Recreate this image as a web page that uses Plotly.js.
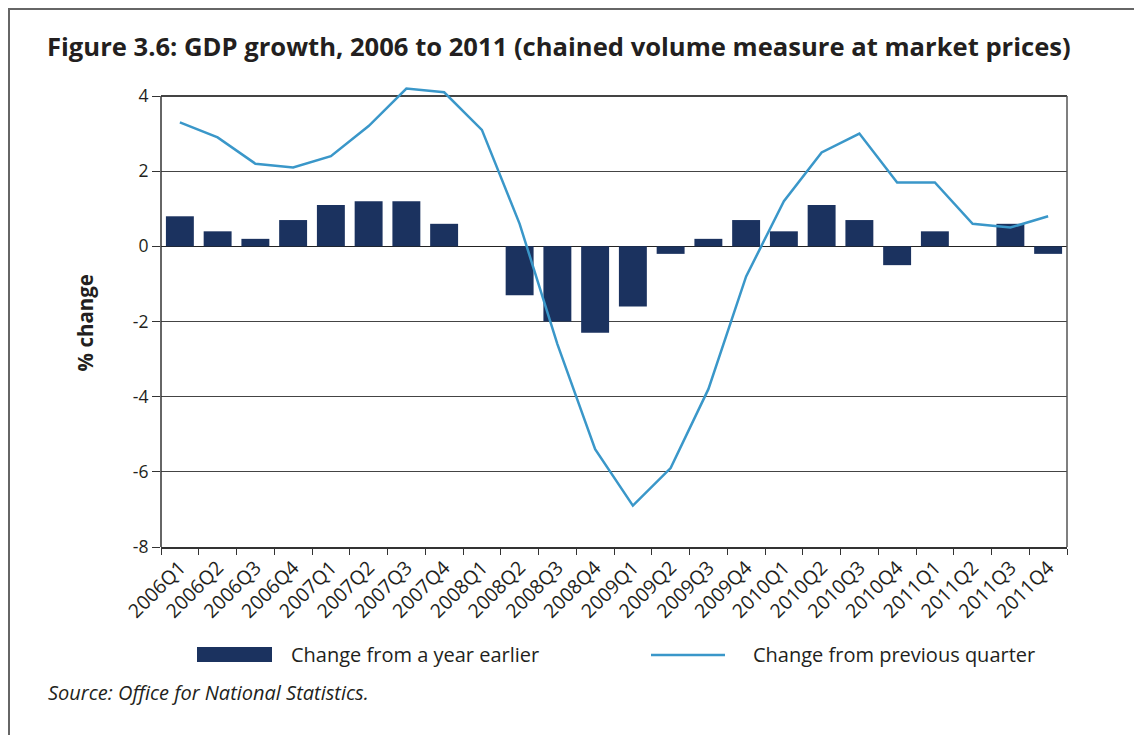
<!DOCTYPE html>
<html>
<head>
<meta charset="utf-8">
<script src="https://cdn.plot.ly/plotly-3.0.1.min.js"></script>
<style>
  html, body { margin: 0; padding: 0; background: #fff; }
  #chart { width: 1134px; height: 735px; }
  #frame { position: absolute; left: 8px; top: 8px; width: 1140px; height: 740px;
           border-left: 2px solid #666; border-top: 2px solid #666; pointer-events: none; }
</style>
</head>
<body>
<div id="chart"></div>
<div id="frame"></div>
<script>
const quarters = ["2006Q1","2006Q2","2006Q3","2006Q4","2007Q1","2007Q2","2007Q3","2007Q4",
  "2008Q1","2008Q2","2008Q3","2008Q4","2009Q1","2009Q2","2009Q3","2009Q4",
  "2010Q1","2010Q2","2010Q3","2010Q4","2011Q1","2011Q2","2011Q3","2011Q4"];
const yearEarlier = [0.8,0.4,0.2,0.7,1.1,1.2,1.2,0.6,
  0.0,-1.3,-2.0,-2.3,-1.6,-0.2,0.2,0.7,
  0.4,1.1,0.7,-0.5,0.4,0.0,0.6,-0.2];
const prevQuarter = [3.3,2.9,2.2,2.1,2.4,3.2,4.2,4.1,
  3.1,0.6,-2.6,-5.4,-6.9,-5.9,-3.8,-0.8,
  1.2,2.5,3.0,1.7,1.7,0.6,0.5,0.8];
const seriesNames = ["Change from a year earlier", "Change from previous quarter"];
const yTicks = [-8,-6,-4,-2,0,2,4];
const yTickText = ["-8","-6","-4","-2","0","2","4"];
const yTitle = "% change";
const yMin = -8, yMax = 4, yHead = 4.4;

const barColor = "#1b325f";
const lineColor = "#3a97c9";
const textColor = "#231f20";
const axisColor = "#333";
const baseFont = "Open Sans, Noto Sans, sans-serif";

// plot frame: y=4 at 96px, y=-8 at 547px
const pxPerUnit = (547 - 96) / (yMax - yMin);
const topMargin = 96 - (yHead - yMax) * pxPerUnit;
const plotH = 547 - topMargin;

const traces = [
  { type: "bar", x: quarters, y: yearEarlier, name: seriesNames[0],
    marker: { color: barColor }, showlegend: false },
  { type: "scatter", mode: "lines", x: quarters, y: prevQuarter, name: seriesNames[1],
    line: { color: lineColor, width: 2.5 }, showlegend: false }
];

const layout = {
  width: 1134, height: 735,
  margin: { l: 161, r: 67, t: topMargin, b: 188 },
  paper_bgcolor: "rgba(0,0,0,0)",
  plot_bgcolor: "rgba(0,0,0,0)",
  bargap: 0.26,
  font: { family: baseFont, color: textColor },
  title: {
    text: "<b>Figure 3.6: GDP growth, 2006 to 2011 (chained volume measure at market prices)</b>",
    x: 47/1134, xanchor: "left", xref: "container",
    y: 1 - 47/735, yanchor: "middle", yref: "container",
    font: { family: baseFont, size: 25.6, color: textColor }
  },
  xaxis: {
    type: "category",
    tickangle: -45,
    ticks: "outside", ticklen: 6, tickcolor: axisColor,
    tickson: "boundaries",
    showline: true, linecolor: axisColor, linewidth: 1.5, mirror: false,
    showgrid: false,
    tickfont: { family: baseFont, size: 19.5, color: textColor },
    range: [-0.5, 23.5]
  },
  yaxis: {
    range: [yMin, yHead],
    tickvals: yTicks, ticktext: yTickText,
    ticks: "outside", ticklen: 8, tickcolor: axisColor,
    showline: false,
    showgrid: true, gridcolor: "#444", gridwidth: 1.2,
    zeroline: true, zerolinecolor: "#222", zerolinewidth: 1.5,
    tickfont: { family: baseFont, size: 17.5, color: textColor }
  },
  shapes: [
    { type: "line", xref: "paper", yref: "y", x0: 0, x1: 0, y0: yMin, y1: yMax,
      line: { color: axisColor, width: 1.5 }, layer: "above" },
    { type: "line", xref: "paper", yref: "y", x0: 1, x1: 1, y0: yMin, y1: yMax,
      line: { color: "#555", width: 1.5 }, layer: "above" },
    { type: "rect", xref: "paper", yref: "paper",
      x0: (197-161)/906, x1: (272-161)/906, y0: -100/plotH, y1: -115/plotH,
      fillcolor: barColor, line: { width: 0 } },
    { type: "line", xref: "paper", yref: "paper",
      x0: (651-161)/906, x1: (725-161)/906, y0: -108/plotH, y1: -108/plotH,
      line: { color: lineColor, width: 2.5 } }
  ],
  annotations: [
    { xref: "paper", yref: "y", x: (85-161)/906, y: (yMax + yMin) / 2 - 0.05,
      xanchor: "center", yanchor: "middle", showarrow: false, textangle: -90,
      text: "<b>" + yTitle + "</b>",
      font: { family: baseFont, size: 20.5, color: textColor } },
    { xref: "paper", yref: "paper", x: (289-161)/906, y: -108/plotH,
      xanchor: "left", yanchor: "middle", showarrow: false, text: seriesNames[0],
      font: { family: baseFont, size: 20, color: textColor } },
    { xref: "paper", yref: "paper", x: (751-161)/906, y: -108/plotH,
      xanchor: "left", yanchor: "middle", showarrow: false, text: seriesNames[1],
      font: { family: baseFont, size: 20, color: textColor } },
    { xref: "paper", yref: "paper", x: (46-161)/906, y: -146/plotH,
      xanchor: "left", yanchor: "middle", showarrow: false,
      text: "<i>Source: Office for National Statistics.</i>",
      font: { family: baseFont, size: 20, color: textColor } }
  ]
};

Plotly.newPlot("chart", traces, layout, { displayModeBar: false, staticPlot: true });
</script>
</body>
</html>
